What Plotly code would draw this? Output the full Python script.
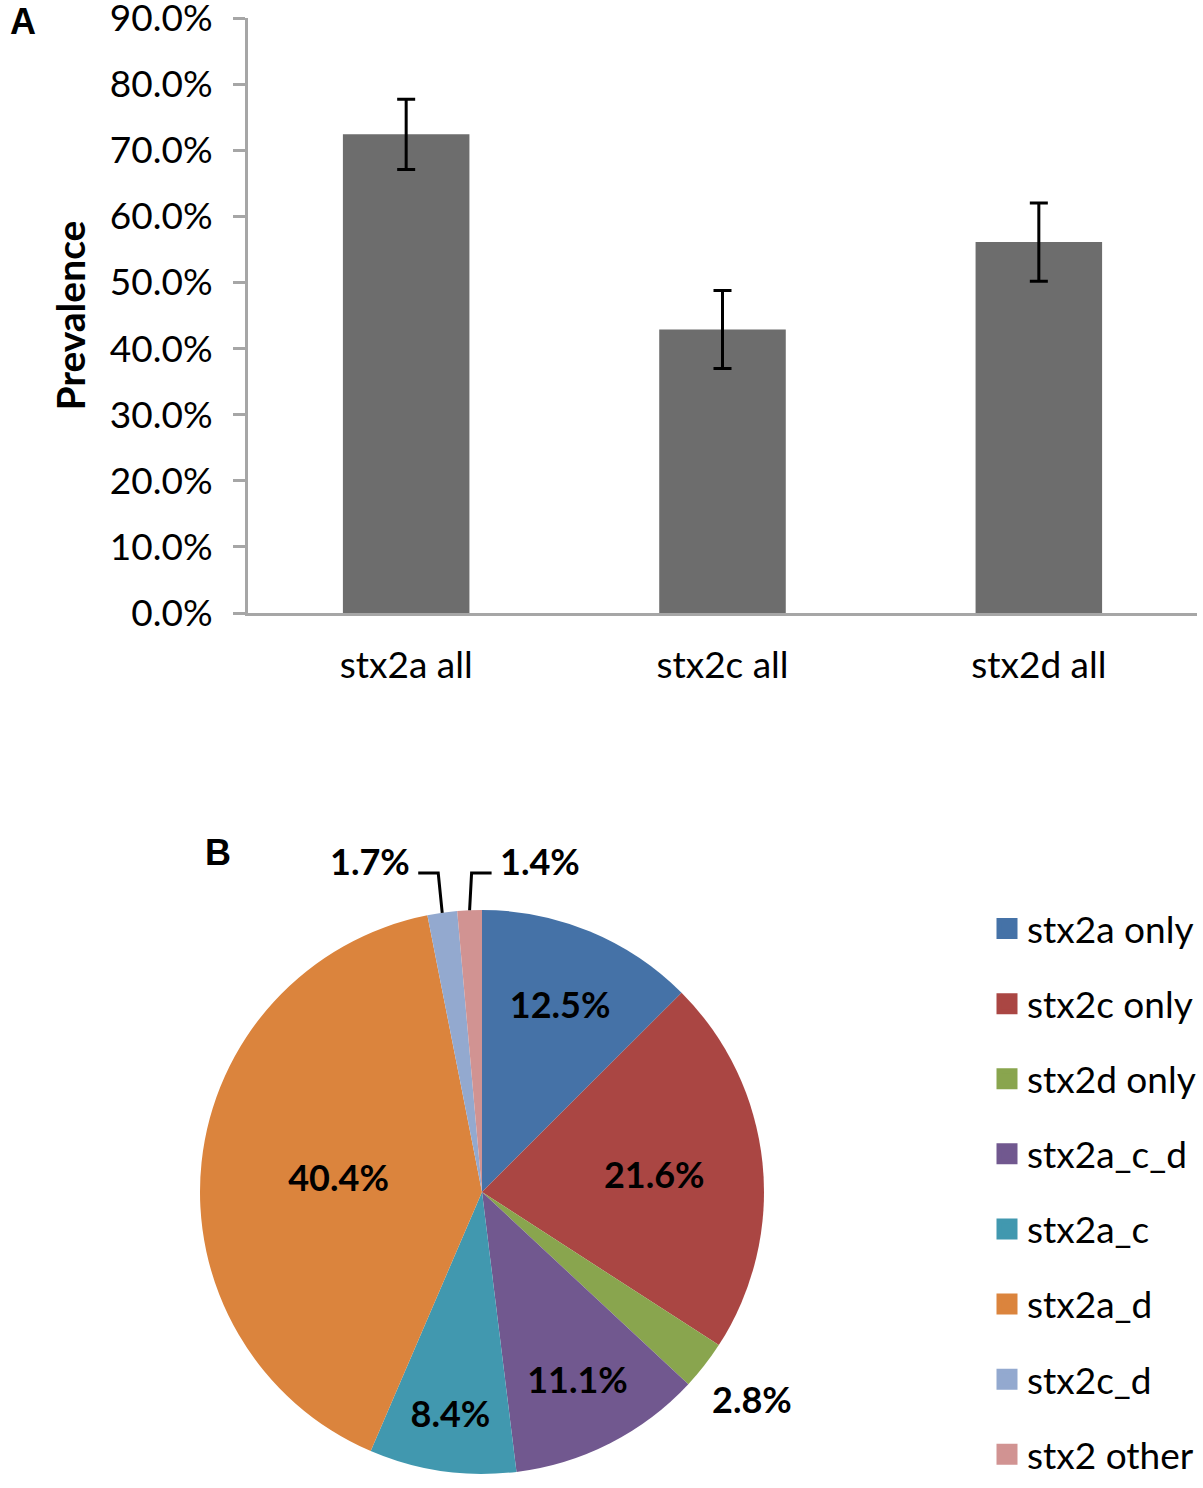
import math
import plotly.graph_objects as go

# panel A: prevalence of each stx2 subtype
bar_cats = ["stx2a all", "stx2c all", "stx2d all"]
bar_vals = [0.724, 0.429, 0.561]
bar_err = [0.053, 0.059, 0.059]

# panel B: combinations of subtypes
pie_labels = ["stx2a only", "stx2c only", "stx2d only", "stx2a_c_d",
              "stx2a_c", "stx2a_d", "stx2c_d", "stx2 other"]
pie_vals = [12.5, 21.6, 2.8, 11.1, 8.4, 40.4, 1.7, 1.4]
pie_colors = ["#4572A7", "#AA4643", "#89A54E", "#71588F",
              "#4198AF", "#DB843D", "#93A9CF", "#D19392"]
# small slices get their label outside, placed by hand below
small = {2: "plain", 6: "left", 7: "right"}

W, H = 1203, 1488
FONT = "Lato"
PIE_CX, PIE_CY, PIE_R = 482, 1192, 282   # pixels

fig = go.Figure()

fig.add_trace(go.Bar(
    x=bar_cats, y=bar_vals,
    marker=dict(color="#6D6D6D", line=dict(width=0)),
    width=0.4,
    error_y=dict(type="data", array=bar_err, color="black", thickness=3, width=9),
    showlegend=False,
))

fig.add_trace(go.Pie(
    labels=pie_labels, values=pie_vals,
    marker=dict(colors=pie_colors, line=dict(width=0)),
    sort=False, direction="clockwise", rotation=0,
    texttemplate="%{value:.1f}%",
    textposition=["none" if i in small else "inside" for i in range(len(pie_vals))],
    insidetextorientation="horizontal",
    textfont=dict(family=FONT, size=36, color="black", weight="bold"),
    domain=dict(x=[(PIE_CX - PIE_R) / W, (PIE_CX + PIE_R) / W],
                y=[1 - (PIE_CY + PIE_R) / H, 1 - (PIE_CY - PIE_R) / H]),
    showlegend=False,
))

# legend entries (one group each so the rows can be spread out)
for lab, col in zip(pie_labels, pie_colors):
    fig.add_trace(go.Scatter(
        x=[None], y=[None], mode="markers", name=lab,
        marker=dict(symbol="square", size=16, color=col, line=dict(color=col, width=5)),
        legendgroup=lab, showlegend=True,
    ))

# outside labels for the thin slices, anchored on the slice's mid angle
total = sum(pie_vals)
start = 0.0
for i, v in enumerate(pie_vals):
    mid = (start + v / 2) / total * 2 * math.pi
    start += v
    if i not in small:
        continue
    px = PIE_CX + PIE_R * math.sin(mid)
    py = PIE_CY - PIE_R * math.cos(mid)
    txt = f"<b>{v:.1f}%</b>"
    kind = small[i]
    if kind == "plain":
        fig.add_annotation(text=txt, x=(px + 48) / W, y=1 - (py + 58) / H,
                           xref="paper", yref="paper", showarrow=False,
                           font=dict(size=36))
    else:
        ly = 873
        ex = px - 4 if kind == "left" else px + 2
        hx = ex - 20 if kind == "left" else ex + 20
        fig.add_shape(type="path", xref="paper", yref="paper",
                      path=f"M{px / W},{1 - py / H} L{ex / W},{1 - ly / H} L{hx / W},{1 - ly / H}",
                      line=dict(color="black", width=3))
        fig.add_annotation(text=txt, x=(hx - 6) / W if kind == "left" else (hx + 6) / W,
                           y=1 - 861 / H, xref="paper", yref="paper", showarrow=False,
                           xanchor="right" if kind == "left" else "left",
                           font=dict(size=36))

fig.update_layout(
    width=W, height=H,
    margin=dict(l=0, r=0, t=0, b=0),
    paper_bgcolor="white", plot_bgcolor="white",
    font=dict(family=FONT, size=37, color="black"),
    bargap=0.6,
    legend=dict(x=987 / W, y=1 - 898 / H, xanchor="left", yanchor="top",
                font=dict(size=37), tracegroupgap=24, itemsizing="trace"),
    xaxis=dict(domain=[248 / W, 1197 / W], showline=True, linecolor="#A6A6A6",
               linewidth=3, ticks="", ticklabelstandoff=18, showgrid=False,
               automargin=False, tickfont=dict(size=37)),
    yaxis=dict(domain=[1 - 613 / H, 1 - 18 / H], range=[0, 0.90001], dtick=0.1,
               tickformat=".1%", showline=True, linecolor="#A6A6A6", linewidth=3,
               ticks="outside", ticklen=12, tickwidth=3, tickcolor="#A6A6A6",
               ticklabelstandoff=13, ticklabeloverflow="allow",
               showgrid=False, zeroline=False,
               automargin=False, tickfont=dict(size=37),
               title=dict(text="<b>Prevalence</b>", font=dict(size=39), standoff=13)),
)

fig.add_annotation(text="<b>A</b>", x=23 / W, y=1 - 21 / H, xref="paper", yref="paper",
                   xanchor="center", yanchor="middle", showarrow=False,
                   font=dict(family="Liberation Sans", size=36))
fig.add_annotation(text="<b>B</b>", x=218 / W, y=1 - 852 / H, xref="paper", yref="paper",
                   xanchor="center", yanchor="middle", showarrow=False,
                   font=dict(family="Liberation Sans", size=36))

# drop the page's default body margin so the figure sits at the window origin
fig.write_html("out.html", config={"displayModeBar": False},
               post_script="document.body.style.margin='0';")
